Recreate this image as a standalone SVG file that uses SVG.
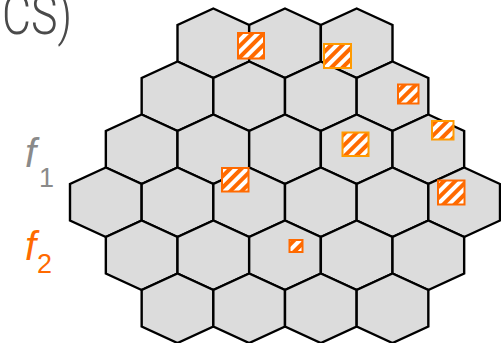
<svg xmlns="http://www.w3.org/2000/svg" xmlns:xlink="http://www.w3.org/1999/xlink" width="501" height="343" viewBox="0 0 501 343">
<style>
.hex{fill:#dcdcdc;stroke:#000;stroke-width:2.4;stroke-linejoin:miter}
.sq{fill:url(#hatch);stroke-width:2}
.red{stroke:#ff6a00}
.yel{stroke:#ff9a00}
.lbl{font-family:"Liberation Sans",Arial,sans-serif;font-style:italic}
.sub{font-family:"Liberation Sans",Arial,sans-serif}
</style>
<defs>
<path id="hex" d="M0,-34.75 L35.83,-18.25 L35.83,18.25 L0,34.75 L-35.83,18.25 L-35.83,-18.25 Z"/>
<pattern id="hatch" patternUnits="userSpaceOnUse" width="8" height="8" patternTransform="rotate(45)">
<rect width="8" height="8" fill="#fff"/>
<rect width="4" height="8" fill="#ff6a00"/>
</pattern>
</defs>
<text x="2" y="34" font-family="Roboto, sans-serif" font-weight="300" font-size="56" fill="#4a4a4a" textLength="70" lengthAdjust="spacingAndGlyphs">CS)</text>
<g id="label-f1" fill="#8a8a8a"><text class="lbl" x="25" y="167" font-size="40">f</text><text class="sub" x="39" y="187" font-size="27">1</text></g>
<g id="label-f2" fill="#ff6a00"><text class="lbl" x="25" y="260" font-size="40">f</text><text class="sub" x="37" y="273" font-size="27">2</text></g>
<g id="cells" class="hex">
<g id="h0-0"><use href="#hex" x="213.33" y="43.25"/></g>
<g id="h0-1"><use href="#hex" x="285" y="43.25"/></g>
<g id="h0-2"><use href="#hex" x="356.67" y="43.25"/></g>
<g id="h1-0"><use href="#hex" x="177.5" y="96.25"/></g>
<g id="h1-1"><use href="#hex" x="249.17" y="96.25"/></g>
<g id="h1-2"><use href="#hex" x="320.83" y="96.25"/></g>
<g id="h1-3"><use href="#hex" x="392.5" y="96.25"/></g>
<g id="h2-0"><use href="#hex" x="141.67" y="149.25"/></g>
<g id="h2-1"><use href="#hex" x="213.33" y="149.25"/></g>
<g id="h2-2"><use href="#hex" x="285" y="149.25"/></g>
<g id="h2-3"><use href="#hex" x="356.67" y="149.25"/></g>
<g id="h2-4"><use href="#hex" x="428.33" y="149.25"/></g>
<g id="h3-0"><use href="#hex" x="105.83" y="202.25"/></g>
<g id="h3-1"><use href="#hex" x="177.5" y="202.25"/></g>
<g id="h3-2"><use href="#hex" x="249.17" y="202.25"/></g>
<g id="h3-3"><use href="#hex" x="320.83" y="202.25"/></g>
<g id="h3-4"><use href="#hex" x="392.5" y="202.25"/></g>
<g id="h3-5"><use href="#hex" x="464.17" y="202.25"/></g>
<g id="h4-0"><use href="#hex" x="141.67" y="255.25"/></g>
<g id="h4-1"><use href="#hex" x="213.33" y="255.25"/></g>
<g id="h4-2"><use href="#hex" x="285" y="255.25"/></g>
<g id="h4-3"><use href="#hex" x="356.67" y="255.25"/></g>
<g id="h4-4"><use href="#hex" x="428.33" y="255.25"/></g>
<g id="h5-0"><use href="#hex" x="177.5" y="308.25"/></g>
<g id="h5-1"><use href="#hex" x="249.17" y="308.25"/></g>
<g id="h5-2"><use href="#hex" x="320.83" y="308.25"/></g>
<g id="h5-3"><use href="#hex" x="392.5" y="308.25"/></g>
</g>
<g id="markers">
<rect id="m1" class="sq red" x="238" y="33" width="26" height="25.5"/>
<rect id="m2" class="sq yel" x="324" y="44" width="27" height="24"/>
<rect id="m3" class="sq red" x="398" y="84.5" width="20.5" height="19"/>
<rect id="m4" class="sq yel" x="432" y="121" width="21.5" height="18.5"/>
<rect id="m5" class="sq yel" x="342.5" y="132.5" width="26" height="23.5"/>
<rect id="m6" class="sq red" x="222" y="168" width="26.5" height="23.5"/>
<rect id="m7" class="sq red" x="438" y="180.5" width="26.5" height="24"/>
<rect id="m8" class="sq red" x="289.5" y="240" width="13" height="12"/>
</g>
</svg>
